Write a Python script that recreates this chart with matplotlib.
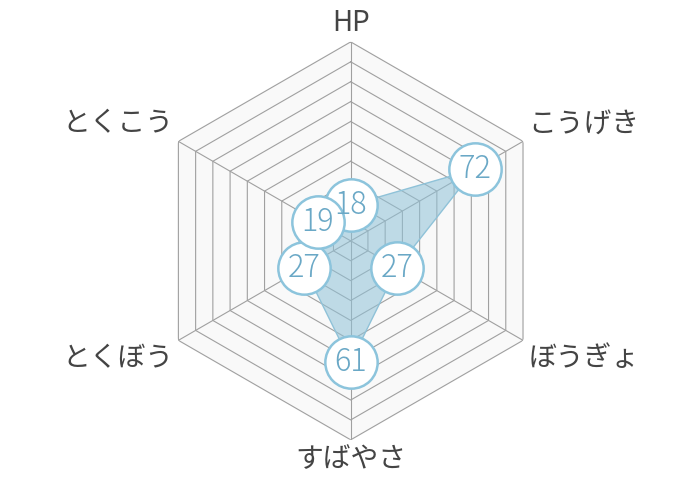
import numpy as np
import matplotlib
matplotlib.use("Agg")
import matplotlib.pyplot as plt

plt.rcParams['font.family'] = ['Noto Sans CJK JP', 'DejaVu Sans']

categories = ["HP", "こうげき", "ぼうぎょ", "すばやさ", "とくぼう", "とくこう"]
values = [18, 72, 27, 61, 27, 19]
rmax = 100
ring_levels = list(range(10, 101, 10))

fig = plt.figure(figsize=(7, 4.8), dpi=100)
ax = fig.add_axes([0.2167, 0.0837, 0.5686, 0.829], projection='polar')
ax.set_theta_zero_location('N')
ax.set_theta_direction(-1)
ax.set_ylim(0, rmax)
ax.grid(False)
ax.spines['polar'].set_visible(False)
ax.set_xticks([])
ax.set_yticks([])
ax.patch.set_alpha(0)

n = len(categories)
angles = np.linspace(0, 2 * np.pi, n, endpoint=False)
closed = np.concatenate([angles, angles[:1]])

# background hexagon
ax.fill(closed, [rmax] * (n + 1), color='#f9f9f9', zorder=0)
for lv in ring_levels:
    ax.plot(closed, [lv] * (n + 1), color='#a0a0a0', lw=0.8, zorder=1)
for a in angles:
    ax.plot([a, a], [0, rmax], color='#a0a0a0', lw=0.8, zorder=1)

vals = values + values[:1]
ax.fill(closed, vals, color='#8fc2d8', alpha=0.55, zorder=2, lw=0)
ax.plot(closed, vals, color='#8fc2d8', lw=1.0, zorder=2)

for a, v in zip(angles, values):
    ax.scatter([a], [v], s=1420, facecolor='white', edgecolor='#8cc4dc',
               linewidths=1.8, zorder=4)
    ax.text(a, v, str(v), ha='center', va='center', fontsize=22,
            color='#6aa8c6', zorder=5, fontweight='light')

label_specs = [
    (102, 'center', 'bottom'),
    (103, 'left', 'bottom'),
    (103, 'left', 'top'),
    (102, 'center', 'top'),
    (103, 'right', 'top'),
    (103, 'right', 'bottom'),
]
for a, lab, (r, ha, va) in zip(angles, categories, label_specs):
    ax.text(a, r, lab, ha=ha, va=va, fontsize=20, color='#444444')

fig.savefig('out.png', dpi=100)
